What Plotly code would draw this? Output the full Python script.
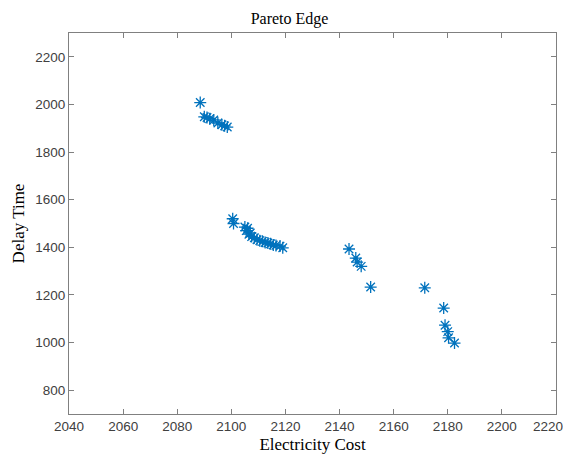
import plotly.graph_objects as go

cost = [2088.5, 2090.0, 2091.0, 2092.0, 2093.5, 2095.0, 2096.5, 2097.5, 2098.5,
        2100.5, 2100.8,
        2105.0, 2105.5, 2106.0, 2106.5, 2107.0, 2107.5, 2108.5, 2109.5, 2110.5,
        2111.5, 2112.5, 2113.5, 2114.5, 2115.5, 2116.5, 2118.0, 2119.0,
        2143.5, 2146.0, 2146.5, 2148.0, 2151.5,
        2171.5, 2178.5, 2179.0, 2180.0, 2180.3, 2182.5]
delay = [2008, 1948, 1945, 1940, 1935, 1922, 1915, 1910, 1905,
         1520, 1500,
         1485, 1470, 1480, 1455, 1460, 1445, 1440, 1432, 1428,
         1425, 1420, 1418, 1415, 1410, 1408, 1405, 1398,
         1393, 1355, 1338, 1320, 1233,
         1230, 1145, 1073, 1046, 1020, 998]
x_ticks = [2040, 2060, 2080, 2100, 2120, 2140, 2160, 2180, 2200, 2220]
x_tick_labels = ["2040", "2060", "2080", "2100", "2120", "2140", "2160", "2180", "2200", ""]
last_x_label = "2220"
y_ticks = [800, 1000, 1200, 1400, 1600, 1800, 2000, 2200]

tick_font = dict(family="Liberation Sans, Arial", size=13.5, color="#404040")

fig = go.Figure(go.Scatter(
    x=cost, y=delay, mode="markers",
    marker=dict(symbol="asterisk-open", size=10, color="#0072BD",
                line=dict(color="#0072BD", width=1.3)),
    showlegend=False, cliponaxis=False))

axis_common = dict(showgrid=False, zeroline=False, showline=True, mirror="ticks",
                   linecolor="#808080", linewidth=1, ticks="inside", ticklen=5,
                   tickcolor="#808080", automargin=False, ticklabeloverflow="allow",
                   tickfont=tick_font)

# the last x tick label sits at the page edge; drawn as a slightly shifted annotation
fig.add_annotation(x=x_ticks[-1], xref="x", y=0, yref="paper", text=last_x_label,
                   showarrow=False, xanchor="center", yanchor="middle",
                   xshift=-8, yshift=-12, font=tick_font)

# page body has an 8px margin, so the figure is sized/offset to compensate
fig.update_layout(
    width=563, height=451,
    margin=dict(l=61, r=15, t=25, b=45, autoexpand=False),
    paper_bgcolor="white", plot_bgcolor="white",
    title=dict(text="Pareto Edge", x=0.5, xanchor="center", y=0.99, yanchor="top",
               automargin=False,
               font=dict(family="Liberation Serif, Times New Roman", size=16, color="black")),
    xaxis=dict(range=[2039.98, 2220.02], tickvals=x_ticks, ticktext=x_tick_labels,
               title=dict(text="Electricity Cost", standoff=4,
                          font=dict(family="Liberation Serif, Times New Roman", size=17, color="black")),
               **axis_common),
    yaxis=dict(range=[700, 2300], tickvals=y_ticks,
               title=dict(text="Delay Time", standoff=6,
                          font=dict(family="Liberation Serif, Times New Roman", size=17, color="black")),
               **axis_common),
)

fig.write_html("out.html")
